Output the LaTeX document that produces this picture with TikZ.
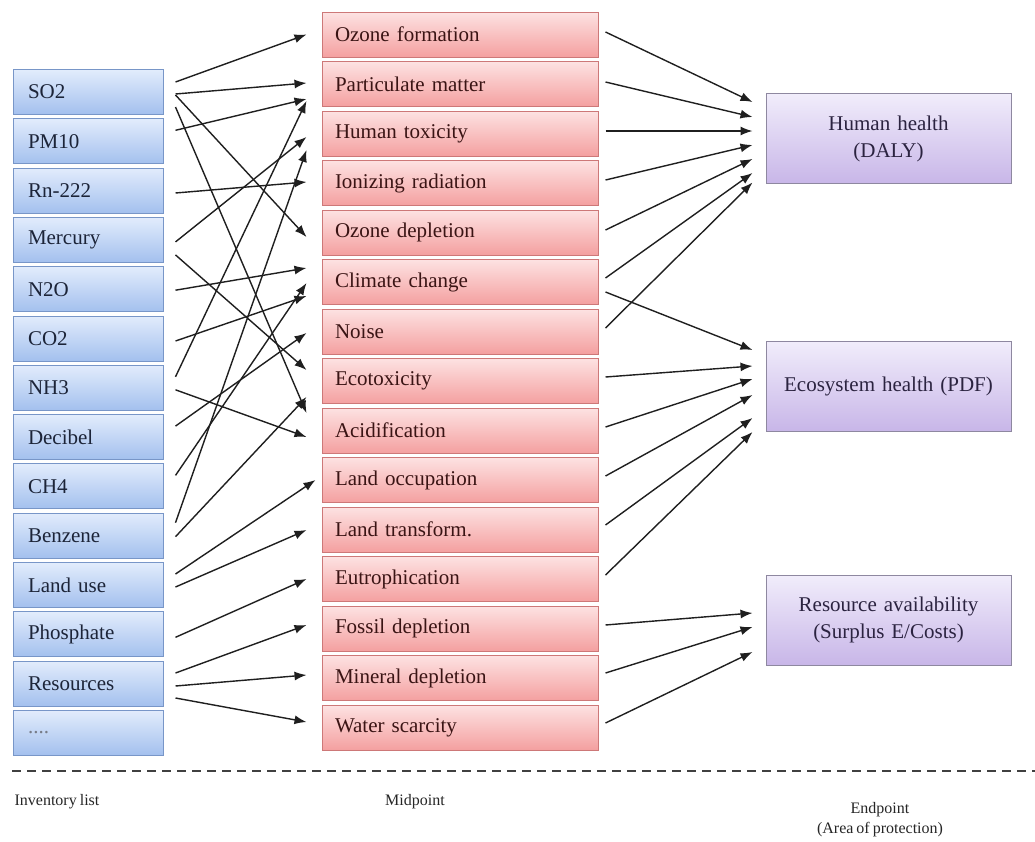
\documentclass[tikz,border=0pt]{standalone}
\usepackage{fontspec}
\setmainfont[WordSpace=0.75]{Liberation Serif}
\usetikzlibrary{arrows.meta,calc}
\definecolor{invT}{RGB}{226,236,252}
\definecolor{invBot}{RGB}{163,192,238}
\definecolor{invB}{RGB}{120,150,200}
\definecolor{invTxt}{RGB}{28,36,56}
\definecolor{midT}{RGB}{253,226,226}
\definecolor{midBot}{RGB}{244,160,160}
\definecolor{midB}{RGB}{205,120,120}
\definecolor{midTxt}{RGB}{58,20,20}
\definecolor{endT}{RGB}{241,237,251}
\definecolor{endBot}{RGB}{200,182,232}
\definecolor{endB}{RGB}{142,136,160}
\definecolor{endTxt}{RGB}{43,35,64}
\newcommand\LMarrow[4]{\draw[arr] ($(#1.east)+(12,#2)$) -- ($(#3.west)+(-15,#4)$);}
\newcommand\MRarrow[4]{\draw[arr] ($(#1.east)+(7,#2)$) -- ($(#3.west)+(-13,#4)$);}
\tikzset{
  invbox/.style={draw=invB, line width=1pt, top color=invT, bottom color=invBot,
    minimum width=150pt, minimum height=45pt, inner xsep=15pt, inner ysep=0pt,
    text width=120pt, align=left, font=\fontsize{21}{23}\selectfont, text=invTxt},
  midbox/.style={draw=midB, line width=1pt, top color=midT, bottom color=midBot,
    minimum width=276pt, minimum height=45pt, inner xsep=13pt, inner ysep=0pt,
    text width=250pt, align=left, font=\fontsize{21}{23}\selectfont, text=midTxt},
  endbox/.style={draw=endB, line width=1pt, top color=endT, bottom color=endBot,
    minimum width=245pt, minimum height=90pt, inner xsep=8pt, inner ysep=0pt,
    text width=229pt, align=center, font=\fontsize{21}{27}\selectfont, text=endTxt},
  arr/.style={line width=1.4pt, black!88, -{Latex[length=12pt,width=9pt]}},
  lab/.style={font=\fontsize{16}{20}\selectfont, text=black!85, inner sep=0pt},
  dashline/.style={line width=2.5pt, black!75, dash pattern=on 9pt off 6pt}
}
\begin{document}
\begin{tikzpicture}[x=1pt,y=-1pt]
\useasboundingbox (0,0) rectangle (1035,841);
\fill[white] (0,0) rectangle (1035,841);
% inventory
\node[invbox] (so2) at (88,92) {SO2};
\node[invbox] (pm10) at (88,141.3) {PM10};
\node[invbox] (rn) at (88,190.6) {Rn-222};
\node[invbox] (hg) at (88,239.9) {Mercury};
\node[invbox] (n2o) at (88,289.2) {N2O};
\node[invbox] (co2) at (88,338.5) {CO2};
\node[invbox] (nh3) at (88,387.8) {NH3};
\node[invbox] (db) at (88,437.1) {Decibel};
\node[invbox] (ch4) at (88,486.4) {CH4};
\node[invbox] (bz) at (88,535.7) {Benzene};
\node[invbox] (lu) at (88,585) {Land use};
\node[invbox] (ph) at (88,634.3) {Phosphate};
\node[invbox] (res) at (88,683.6) {Resources};
\node[invbox] (etc) at (88,732.9) {\textcolor{invTxt!60}{....}};
% midpoint
\node[midbox] (of) at (460,34.5) {Ozone formation};
\node[midbox] (pm) at (460,84) {Particulate matter};
\node[midbox] (ht) at (460,133.5) {Human toxicity};
\node[midbox] (ir) at (460,183) {Ionizing radiation};
\node[midbox] (od) at (460,232.5) {Ozone depletion};
\node[midbox] (cc) at (460,282) {Climate change};
\node[midbox] (no) at (460,331.5) {Noise};
\node[midbox] (et) at (460,381) {Ecotoxicity};
\node[midbox] (ac) at (460,430.5) {Acidification};
\node[midbox] (lo) at (460,480) {Land occupation};
\node[midbox] (lt) at (460,529.5) {Land transform.};
\node[midbox] (eu) at (460,579) {Eutrophication};
\node[midbox] (fd) at (460,628.5) {Fossil depletion};
\node[midbox] (md) at (460,678) {Mineral depletion};
\node[midbox] (ws) at (460,727.5) {Water scarcity};
% endpoint
\node[endbox] (hh) at (888.5,138.5) {Human health\\(DALY)};
\node[endbox] (eh) at (888.5,386) {Ecosystem health (PDF)};
\node[endbox] (ra) at (888.5,620) {Resource availability\\(Surplus E/Costs)};
% inventory -> midpoint
\LMarrow{so2}{-10}{of}{0}
\LMarrow{so2}{2}{pm}{-1}
\LMarrow{so2}{3}{od}{4.5}
\LMarrow{so2}{15}{ac}{-17.5}
\LMarrow{pm10}{-11}{pm}{15}
\LMarrow{rn}{2.4}{ir}{-1}
\LMarrow{hg}{2}{ht}{3.5}
\LMarrow{hg}{15}{et}{-11}
\LMarrow{n2o}{1}{cc}{-14}
\LMarrow{co2}{2.5}{cc}{14}
\LMarrow{nh3}{-11}{pm}{17}
\LMarrow{nh3}{2}{ac}{6.5}
\LMarrow{db}{-11}{no}{1.5}
\LMarrow{ch4}{-11}{cc}{1}
\LMarrow{bz}{-13}{ht}{16.5}
\LMarrow{bz}{1}{et}{16}
\draw[arr] ($(lu.east)+(12,-11)$) -- ($(lo.west)+(-6,0)$);
\LMarrow{lu}{2}{lt}{0.5}
\LMarrow{ph}{3}{eu}{0}
\LMarrow{res}{-10.6}{fd}{-3.5}
\LMarrow{res}{2.4}{md}{-3}
\LMarrow{res}{14.4}{ws}{-5.5}
% midpoint -> endpoint
\MRarrow{of}{-2.5}{hh}{-36.5}
\MRarrow{pm}{-2}{hh}{-21.5}
\MRarrow{ht}{-2.5}{hh}{-7.5}
\MRarrow{ir}{-3}{hh}{6.5}
\MRarrow{od}{-2.5}{hh}{20.5}
\MRarrow{cc}{-4}{hh}{34.5}
\MRarrow{no}{-3.5}{hh}{44}
\MRarrow{cc}{10}{eh}{-36}
\MRarrow{et}{-4}{eh}{-20}
\MRarrow{ac}{-3.5}{eh}{-7}
\MRarrow{lo}{-4}{eh}{9}
\MRarrow{lt}{-4.5}{eh}{32}
\MRarrow{eu}{-4}{eh}{46}
\MRarrow{fd}{-3.5}{ra}{-7}
\MRarrow{md}{-5}{ra}{7}
\MRarrow{ws}{-4.5}{ra}{32}
% bottom
\coordinate (dl) at (12,771);
\coordinate (dr) at (1035,771);
\draw[dashline] (dl) -- (dr);
\node[lab] (invl) at (57,802) {Inventory list};
\node[lab] (midl) at (415,802) {Midpoint};
\node[lab,align=center] (endl) at (880,820) {Endpoint\\(Area of protection)};
\end{tikzpicture}
\end{document}
